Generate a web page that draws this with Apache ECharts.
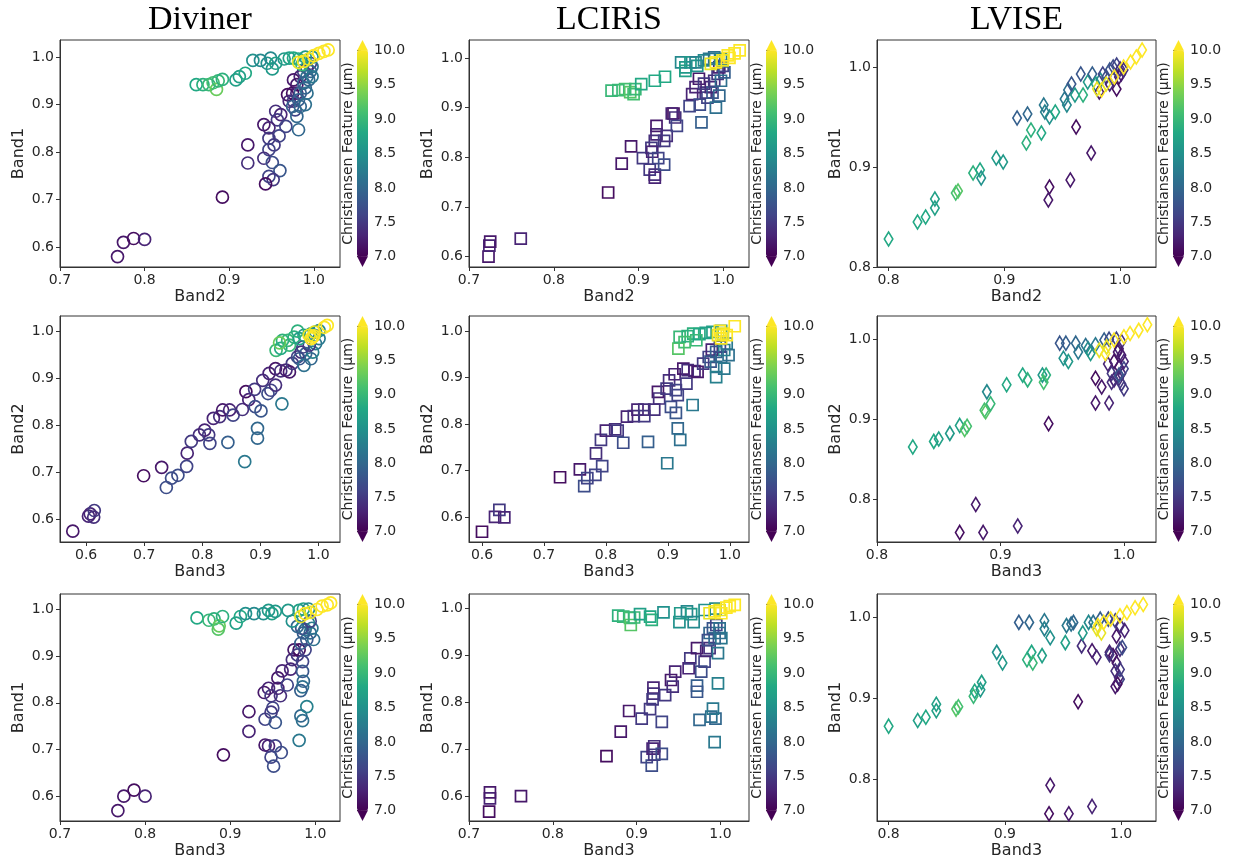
<!DOCTYPE html>
<html><head><meta charset="utf-8">
<script src="https://cdn.jsdelivr.net/npm/echarts@6/dist/echarts.min.js"></script>
<style>html,body{margin:0;padding:0;background:#fff}#chart{width:1233px;height:866px}</style>
</head><body><div id="chart"></div>
<script>
// ---------------- data ----------------
const titles = ['Diviner', 'LCIRiS', 'LVISE'];
const cbLabel = 'Christiansen Feature (µm)';
const cbTicks = [7.0, 7.5, 8.0, 8.5, 9.0, 9.5, 10.0];
const ticks_06_10 = [0.6, 0.7, 0.8, 0.9, 1.0];
const ticks_07_10 = [0.7, 0.8, 0.9, 1.0];
const ticks_08_10 = [0.8, 0.9, 1.0];
const viridis = ['#440154','#482475','#414487','#355f8d','#2a788e','#21918c','#22a884','#44bf70','#7ad151','#bddf26','#fde725'];

// Diviner, Band2 (x) vs Band1 (y)
const divR1_x = [0.996,0.992,0.988,0.984,0.980,0.976,0.975,0.980,0.969,0.971,0.976,0.978,0.955,0.961,0.957,0.967,0.941,0.947,0.959,0.947,0.953,0.947,0.922,0.922,0.941,0.951,0.960,0.947,0.952,0.943,0.892,0.768,0.775,0.787,0.800,
  0.998,0.996,0.992,0.988,0.994,0.998,0.990,0.984,0.992,0.982,0.990,0.984,0.980,0.982,0.975,
  0.861,0.869,0.876,0.881,0.885,0.887,0.892,0.908,0.912,0.919,0.928,0.937,0.945,0.949,0.951,0.955,0.965,0.971,0.976,0.982,0.986,0.990,0.998,
  0.982,0.988,0.994,1.000,1.006,1.012,1.017];
const divR1_y = [0.987,0.977,0.970,0.959,0.942,0.952,0.924,0.924,0.921,0.907,0.907,0.889,0.886,0.879,0.868,0.854,0.858,0.851,0.834,0.829,0.815,0.805,0.815,0.777,0.787,0.778,0.761,0.749,0.742,0.733,0.705,0.580,0.610,0.618,0.616,
  0.980,0.970,0.959,0.945,0.952,0.959,0.935,0.924,0.924,0.910,0.900,0.896,0.875,0.847,0.896,
  0.942,0.942,0.942,0.946,0.932,0.950,0.953,0.952,0.959,0.966,0.993,0.993,0.987,0.998,0.975,0.987,0.996,0.998,0.998,0.996,0.984,1.000,1.000,
  0.989,0.991,0.996,1.003,1.008,1.012,1.015];
const divR1_c = [7.5,7.4,7.6,7.3,7.2,7.2,7.1,7.3,7.1,7.3,7.5,7.6,7.4,7.3,7.5,7.6,7.2,7.3,7.6,7.5,7.5,7.6,7.2,7.4,7.4,7.7,7.8,7.6,7.5,7.1,7.1,7.2,7.2,7.1,7.3,
  8.1,8.0,8.1,7.9,8.0,8.2,8.0,7.9,8.1,7.9,8.1,8.0,8.0,8.0,7.9,
  8.8,8.9,9.0,9.1,9.3,9.0,8.9,8.7,8.7,8.8,8.5,8.4,8.5,8.4,8.6,8.7,8.6,8.7,8.8,8.8,9.0,8.6,8.5,
  9.9,10,9.9,10,10,10,10];

// LCIRiS, Band2 (x) vs Band1 (y)
const lciR1_x = [0.723,0.724,0.725,0.761,0.864,0.880,0.891,0.905,0.913,0.919,0.919,0.921,0.921,0.919,0.915,0.916,0.923,0.930,0.930,0.933,0.941,0.943,0.945,0.939,0.960,0.963,0.971,0.972,0.974,0.979,0.981,0.985,0.989,0.993,0.995,0.999,0.991,0.995,0.997,1.001,0.987,0.967,0.977,
  0.868,0.876,0.884,0.890,0.894,0.896,0.903,0.919,0.931,0.950,0.955,0.955,0.961,0.967,0.969,0.977,0.983,0.989,0.997,
  0.985,0.991,0.999,1.005,1.007,1.013,1.019];
const lciR1_y = [0.600,0.622,0.630,0.636,0.729,0.787,0.822,0.798,0.775,0.765,0.759,0.863,0.846,0.833,0.819,0.811,0.798,0.785,0.833,0.843,0.888,0.880,0.863,0.888,0.903,0.927,0.958,0.906,0.870,0.930,0.920,0.941,0.954,0.968,0.981,0.984,0.900,0.924,0.954,0.971,0.930,0.941,0.948,
  0.934,0.935,0.937,0.931,0.927,0.937,0.947,0.954,0.962,0.991,0.981,0.974,0.991,0.991,0.984,0.995,0.998,1.001,0.998,
  0.988,0.991,0.995,1.005,1.000,1.009,1.015];
const lciR1_c = [7.2,7.3,7.2,7.3,7.1,7.2,7.2,7.5,7.5,7.4,7.3,7.2,7.3,7.4,7.5,7.3,7.6,7.7,7.5,7.4,7.1,7.4,7.6,7.3,7.6,7.3,7.2,7.7,7.9,7.5,7.6,7.3,7.4,7.5,7.3,7.6,8.1,8.0,8.1,7.9,7.8,7.3,7.5,
  9.0,9.0,9.1,9.2,9.1,9.0,8.8,8.8,8.8,8.4,8.6,8.7,8.6,8.3,8.5,8.4,8.2,8.1,8.3,
  9.9,10,9.9,10,10,10,10];

// LVISE, Band2 (x) vs Band1 (y)
const lviR1_x = [0.800,0.825,0.832,0.840,0.840,0.858,0.860,0.873,0.879,0.880,0.893,0.899,0.911,0.920,0.919,0.923,0.932,0.934,0.939,0.935,0.944,0.952,0.954,0.955,0.958,0.961,0.966,0.968,0.972,0.976,0.979,0.983,0.982,0.985,0.991,0.994,0.997,1.000,1.001,0.999,0.997,1.003,0.994,0.988,0.991,0.962,0.975,0.957,0.939,0.938,
  0.980,0.984,0.988,0.995,1.003,1.009,1.014,1.019];
const lviR1_y = [0.828,0.845,0.850,0.859,0.868,0.874,0.876,0.894,0.897,0.889,0.909,0.905,0.949,0.953,0.924,0.937,0.934,0.962,0.950,0.955,0.955,0.968,0.962,0.977,0.983,0.972,0.993,0.972,0.985,0.993,0.983,0.987,0.975,0.993,0.997,1.000,1.002,0.998,0.993,0.990,0.978,0.997,0.988,0.990,0.983,0.940,0.914,0.887,0.880,0.867,
  0.978,0.977,0.983,0.990,1.000,1.005,1.010,1.017];
const lviR1_c = [8.8,8.8,8.8,8.7,8.7,9.1,9.2,8.9,8.8,8.5,8.6,8.6,7.9,8.0,8.9,8.9,8.8,8.2,8.5,8.3,8.8,8.2,8.4,8.1,7.8,8.6,7.8,8.9,8.6,7.9,8.7,8.4,7.2,7.6,7.8,7.7,7.6,7.4,7.3,7.2,7.1,7.4,7.5,7.7,7.3,7.1,7.2,7.2,7.1,7.2,
  9.9,10,9.9,10,10,10,10,10];

// Diviner, Band3 (x) vs Band2 (y)
const divR2_x = [0.577,0.604,0.607,0.613,0.614,0.699,0.730,0.738,0.747,0.758,0.773,0.774,0.781,0.795,0.804,0.811,0.813,0.819,0.830,0.835,0.847,0.853,0.844,0.869,0.875,0.880,0.890,0.891,0.901,0.895,0.895,0.873,0.904,0.915,0.913,0.918,0.926,0.926,0.935,0.944,0.950,0.937,0.955,0.964,0.970,0.967,0.978,0.975,0.987,0.990,0.995,0.984,1.001,0.973,0.993,
  0.927,0.935,0.938,0.947,0.950,0.958,0.967,0.975,0.987,0.995,1.001,0.964,0.933,
  0.984,0.990,0.993,0.987,0.992,1.010,1.015];
const divR2_y = [0.574,0.606,0.611,0.604,0.618,0.692,0.710,0.667,0.687,0.693,0.712,0.740,0.765,0.779,0.789,0.779,0.761,0.814,0.818,0.832,0.832,0.821,0.763,0.833,0.871,0.854,0.876,0.839,0.830,0.793,0.772,0.722,0.895,0.910,0.867,0.874,0.885,0.920,0.915,0.917,0.913,0.845,0.931,0.945,0.955,0.941,0.952,0.927,0.941,0.955,0.973,0.970,0.984,0.966,0.991,
  0.959,0.963,0.980,0.980,0.970,0.987,0.984,0.991,0.994,0.998,1.001,1.000,0.975,
  0.991,0.987,0.998,0.984,0.990,1.008,1.012];
const divR2_c = [7.2,7.3,7.3,7.4,7.5,7.1,7.2,7.7,7.7,7.7,7.6,7.3,7.5,7.4,7.3,7.5,7.6,7.3,7.4,7.2,7.3,7.6,7.9,7.4,7.1,7.3,7.5,7.7,7.8,8.0,8.0,8.2,7.4,7.3,7.7,7.6,7.4,7.2,7.4,7.3,7.2,8.2,7.5,7.6,7.4,7.8,7.9,8.1,8.0,8.3,8.2,7.5,8.2,7.6,8.3,
  9.0,8.8,8.9,9.0,9.0,8.9,8.7,8.6,8.6,8.5,8.4,8.9,9.3,
  9.9,10,9.9,10,10,10,10];

// LCIRiS, Band3 (x) vs Band2 (y)
const lciR2_x = [0.600,0.621,0.628,0.636,0.726,0.758,0.765,0.770,0.783,0.794,0.784,0.792,0.800,0.815,0.819,0.828,0.834,0.845,0.851,0.862,0.862,0.868,0.878,0.884,0.886,0.898,0.905,0.913,0.916,0.920,0.899,0.902,0.911,0.913,0.916,0.930,0.925,0.932,0.943,0.948,0.940,0.957,0.966,0.971,0.969,0.978,0.978,0.986,0.991,0.995,0.984,0.978,0.991,0.998,
  0.917,0.919,0.932,0.941,0.951,0.961,0.972,0.986,0.946,0.927,
  0.981,0.986,0.989,0.984,0.995,1.008];
const lciR2_y = [0.569,0.601,0.616,0.600,0.686,0.703,0.667,0.684,0.691,0.710,0.737,0.766,0.786,0.789,0.786,0.760,0.816,0.817,0.831,0.831,0.817,0.762,0.831,0.869,0.855,0.876,0.837,0.824,0.791,0.766,0.716,0.894,0.907,0.873,0.862,0.887,0.919,0.916,0.914,0.912,0.841,0.930,0.944,0.960,0.934,0.955,0.923,0.944,0.959,0.973,0.966,0.901,0.919,0.948,
  0.962,0.987,0.989,0.994,0.993,0.996,0.998,1.000,0.980,0.976,
  0.991,0.984,0.994,1.000,0.991,1.010];
const lciR2_c = [7.1,7.3,7.5,7.3,7.1,7.2,7.7,7.6,7.6,7.6,7.4,7.5,7.3,7.4,7.5,7.7,7.3,7.4,7.3,7.4,7.5,7.9,7.4,7.2,7.4,7.5,7.7,7.8,8.0,8.1,8.2,7.4,7.3,7.6,7.6,7.5,7.2,7.4,7.3,7.2,8.2,7.5,7.6,7.3,7.8,7.9,8.1,8.0,8.3,8.2,7.6,8.3,8.2,8.1,
  9.2,9.0,8.9,8.9,8.8,8.7,8.7,8.5,9.0,9.1,
  9.9,10,9.9,10,10,10];

// LVISE, Band3 (x) vs Band2 (y)
const lviR2_x = [0.829,0.846,0.850,0.859,0.867,0.871,0.873,0.889,0.887,0.888,0.892,0.905,0.918,0.922,0.934,0.937,0.935,0.948,0.953,0.951,0.955,0.961,0.963,0.969,0.971,0.973,0.977,0.984,0.988,0.994,0.998,0.996,0.998,0.992,0.996,0.998,0.996,0.990,0.992,0.998,0.987,0.977,0.982,0.990,0.977,0.988,0.939,0.880,0.867,0.886,0.914,1.000,1.000,0.996,1.000,0.995,
  0.980,0.985,0.986,0.992,1.000,1.005,1.012,1.019];
const lviR2_y = [0.865,0.872,0.875,0.882,0.892,0.887,0.891,0.934,0.911,0.909,0.919,0.943,0.955,0.949,0.955,0.955,0.946,0.995,0.995,0.976,0.972,0.995,0.984,0.992,0.988,0.982,0.993,0.999,1.000,1.000,0.997,0.988,0.980,0.972,0.965,0.957,0.951,0.957,0.949,0.944,0.969,0.951,0.940,0.946,0.920,0.920,0.894,0.793,0.758,0.758,0.766,0.972,0.963,0.955,0.938,0.984,
  0.986,0.982,0.990,0.999,1.003,1.007,1.011,1.018];
const lviR2_c = [8.8,8.8,8.7,8.6,8.7,9.2,9.1,8.4,9.1,9.2,9.0,8.8,8.8,8.9,8.6,8.9,9.1,7.8,7.9,8.5,8.6,8.0,8.2,8.1,8.4,8.6,8.2,7.9,7.7,7.6,7.4,7.3,7.2,7.1,7.2,7.3,7.4,7.5,7.3,7.5,7.3,7.1,7.2,7.4,7.2,7.3,7.1,7.2,7.1,7.2,7.3,7.3,7.6,7.8,7.5,7.2,
  9.9,10,9.9,10,10,10,10,10];

// Diviner, Band3 (x) vs Band1 (y)
const divR3_x = [0.768,0.775,0.787,0.800,0.892,0.922,0.922,0.941,0.945,0.948,0.951,0.953,0.960,0.941,0.950,0.948,0.953,0.940,0.945,0.948,0.956,0.959,0.956,0.961,0.967,0.971,0.973,0.975,0.981,0.979,0.985,0.985,0.986,0.985,0.983,0.983,0.985,0.990,0.981,0.983,0.988,0.990,0.994,0.988,0.996,0.992,0.998,0.986,0.984,0.994,0.979,
  0.861,0.875,0.881,0.887,0.886,0.891,0.907,0.912,0.918,0.928,0.939,0.945,0.949,0.953,0.968,0.973,0.981,0.986,0.992,
  0.983,0.988,0.994,1.002,1.008,1.014,1.018];
const divR3_y = [0.570,0.601,0.614,0.601,0.689,0.739,0.781,0.710,0.708,0.684,0.665,0.708,0.694,0.765,0.789,0.780,0.758,0.822,0.831,0.815,0.831,0.815,0.853,0.868,0.838,0.872,0.892,0.913,0.913,0.902,0.888,0.867,0.846,0.834,0.826,0.772,0.762,0.792,0.720,0.927,0.913,0.935,0.949,0.956,0.959,0.970,0.935,0.949,0.959,0.974,0.963,
  0.981,0.976,0.979,0.964,0.957,0.984,0.970,0.984,0.990,0.990,0.990,0.997,0.990,0.995,0.997,0.974,0.997,1.000,1.000,
  0.984,0.990,0.993,0.999,1.006,1.009,1.013];
const divR3_c = [7.2,7.2,7.1,7.3,7.1,7.3,7.2,7.2,7.3,7.6,7.7,7.6,7.7,7.6,7.6,7.5,7.8,7.2,7.3,7.5,7.3,7.4,7.2,7.3,7.6,7.3,7.4,7.2,7.1,7.5,7.6,7.8,8.0,8.1,7.9,8.0,8.1,8.3,8.2,7.9,7.6,7.8,8.0,8.1,8.2,8.3,8.1,7.9,7.7,7.6,8.0,
  8.8,9.0,8.9,9.3,9.2,8.9,8.7,8.8,8.5,8.4,8.5,8.6,8.7,8.6,8.6,8.5,8.7,8.7,8.4,
  9.9,10,9.9,10,10,10,10];

// LCIRiS, Band3 (x) vs Band1 (y)
const lciR3_x = [0.724,0.725,0.725,0.762,0.864,0.881,0.891,0.906,0.912,0.918,0.921,0.921,0.919,0.930,0.930,0.920,0.920,0.919,0.916,0.934,0.941,0.943,0.946,0.962,0.964,0.972,0.972,0.972,0.977,0.981,0.983,0.987,0.975,0.989,0.994,0.991,0.993,0.997,0.997,0.987,0.991,0.995,0.999,1.001,0.993,0.985,0.999,
  0.878,0.884,0.892,0.893,0.897,0.904,0.916,0.918,0.932,0.951,0.952,0.960,0.965,0.968,0.981,0.994,
  0.987,0.993,0.999,1.001,1.007,1.011,1.017];
const lciR3_y = [0.567,0.595,0.608,0.600,0.685,0.737,0.781,0.765,0.683,0.665,0.688,0.706,0.701,0.690,0.758,0.831,0.818,0.806,0.785,0.815,0.847,0.833,0.865,0.872,0.893,0.915,0.835,0.822,0.865,0.886,0.909,0.915,0.762,0.769,0.765,0.786,0.715,0.840,0.904,0.947,0.957,0.964,0.957,0.936,0.936,0.932,0.947,
  0.984,0.982,0.979,0.964,0.980,0.987,0.982,0.975,0.991,0.970,0.989,0.993,0.987,0.970,0.996,0.999,
  0.989,0.993,0.996,0.989,1.001,1.004,1.007];
const lciR3_c = [7.1,7.3,7.2,7.2,7.1,7.2,7.2,7.5,7.6,7.7,7.5,7.4,7.3,7.7,7.6,7.3,7.4,7.5,7.5,7.5,7.2,7.4,7.3,7.3,7.5,7.2,7.9,7.8,7.7,7.6,7.3,7.4,8.0,8.1,8.0,8.2,8.2,8.3,8.2,8.0,7.8,7.6,8.1,8.2,8.0,7.7,8.1,
  8.9,9.0,9.1,9.2,9.0,8.7,8.8,8.9,8.5,8.5,8.6,8.4,8.6,8.4,8.5,8.4,
  9.9,10,9.9,10,10,10,10];

// LVISE, Band3 (x) vs Band1 (y)
const lviR3_x = [0.800,0.825,0.832,0.841,0.841,0.858,0.860,0.873,0.874,0.879,0.880,0.893,0.898,0.912,0.921,0.919,0.923,0.924,0.932,0.934,0.934,0.939,0.952,0.953,0.957,0.959,0.966,0.967,0.972,0.975,0.976,0.979,0.982,0.989,0.995,0.999,1.003,0.996,0.993,0.996,0.999,0.990,0.999,0.995,0.998,0.999,0.997,0.995,0.990,1.001,0.963,0.939,0.938,0.955,0.975,
  0.979,0.980,0.983,0.985,0.991,0.999,1.005,1.012,1.019];
const lviR3_y = [0.866,0.873,0.877,0.885,0.893,0.887,0.890,0.903,0.909,0.911,0.920,0.957,0.944,0.994,0.994,0.948,0.957,0.944,0.953,0.996,0.986,0.975,0.969,0.990,0.992,0.994,0.965,0.981,0.994,0.959,0.994,0.951,0.998,0.998,0.996,0.990,0.984,0.977,0.953,0.944,0.961,0.957,0.936,0.934,0.926,0.924,0.918,0.915,0.954,0.963,0.896,0.793,0.758,0.758,0.767,
  0.986,0.990,0.981,0.994,0.998,1.002,1.006,1.012,1.016];
const lviR3_c = [8.8,8.7,8.8,8.7,8.7,9.2,9.1,9.0,8.8,8.6,8.7,8.5,8.6,7.9,8.0,8.9,8.8,9.0,8.7,8.2,8.3,8.5,8.7,8.2,8.1,8.0,7.4,8.6,8.4,7.2,8.1,7.3,7.9,7.7,7.6,7.4,7.3,7.2,7.1,7.2,7.4,7.3,7.5,7.4,7.3,7.6,7.1,7.2,7.5,7.7,7.1,7.2,7.1,7.2,7.3,
  9.9,10,9.9,10,10,10,10,10,10];

// ---------------- layout / style ----------------
const colLeft = [60, 469, 877];
const colW = [280, 280, 279];
const rowTop = [40, 316, 594];
const rowH = [227, 226, 227];
const symbols = ['circle', 'rect', 'diamond'];
const symbolSizes = [12, 11, [8.5, 14]];

const panels = [
  {x: divR1_x, y: divR1_y, c: divR1_c, xr: [0.7, 1.031], yr: [0.558, 1.036], xt: ticks_07_10, yt: ticks_06_10, xn: 'Band2', yn: 'Band1'},
  {x: lciR1_x, y: lciR1_y, c: lciR1_c, xr: [0.7, 1.03], yr: [0.579, 1.036], xt: ticks_07_10, yt: ticks_06_10, xn: 'Band2', yn: 'Band1'},
  {x: lviR1_x, y: lviR1_y, c: lviR1_c, xr: [0.79, 1.031], yr: [0.8, 1.027], xt: ticks_08_10, yt: ticks_08_10, xn: 'Band2', yn: 'Band1'},
  {x: divR2_x, y: divR2_y, c: divR2_c, xr: [0.555, 1.037], yr: [0.551, 1.032], xt: ticks_06_10, yt: ticks_06_10, xn: 'Band3', yn: 'Band2'},
  {x: lciR2_x, y: lciR2_y, c: lciR2_c, xr: [0.579, 1.031], yr: [0.547, 1.032], xt: ticks_06_10, yt: ticks_06_10, xn: 'Band3', yn: 'Band2'},
  {x: lviR2_x, y: lviR2_y, c: lviR2_c, xr: [0.8, 1.026], yr: [0.746, 1.029], xt: ticks_08_10, yt: ticks_08_10, xn: 'Band3', yn: 'Band2'},
  {x: divR3_x, y: divR3_y, c: divR3_c, xr: [0.7, 1.029], yr: [0.548, 1.032], xt: ticks_07_10, yt: ticks_06_10, xn: 'Band3', yn: 'Band1'},
  {x: lciR3_x, y: lciR3_y, c: lciR3_c, xr: [0.7, 1.034], yr: [0.547, 1.03], xt: ticks_07_10, yt: ticks_06_10, xn: 'Band3', yn: 'Band1'},
  {x: lviR3_x, y: lviR3_y, c: lviR3_c, xr: [0.79, 1.03], yr: [0.749, 1.029], xt: ticks_08_10, yt: ticks_08_10, xn: 'Band3', yn: 'Band1'}
];

const TXT = '#262626', LINE = '#333';
const FONT = '"DejaVu Sans", sans-serif';
function cfColor(v) {
  const t = Math.max(0, Math.min(1, (v - cbTicks[0]) / (cbTicks[cbTicks.length - 1] - cbTicks[0])));
  return echarts.color.lerp(t, viridis);
}
const fmt1 = v => (Math.round(v * 10) / 10).toFixed(1);

const grid = [], xAxis = [], yAxis = [], series = [], visualMap = [], graphic = [];

panels.forEach((p, i) => {
  const r = Math.floor(i / 3), col = i % 3;
  if (p.x.length !== p.y.length || p.x.length !== p.c.length) console.error('length mismatch panel', i, p.x.length, p.y.length, p.c.length);
  grid.push({left: colLeft[col], top: rowTop[r], width: colW[col], height: rowH[r], show: true, borderColor: LINE, borderWidth: 1, backgroundColor: 'transparent'});
  xAxis.push({
    gridIndex: i, type: 'value', min: p.xr[0], max: p.xr[1],
    name: p.xn, nameLocation: 'middle', nameGap: 22,
    nameTextStyle: {fontSize: 16, color: TXT, fontFamily: FONT},
    axisLine: {show: true, onZero: false, lineStyle: {color: LINE}},
    axisTick: {show: true, length: 4, customValues: p.xt, lineStyle: {color: LINE}},
    axisLabel: {customValues: p.xt, formatter: fmt1, fontSize: 14, color: TXT, margin: 6, fontFamily: FONT},
    splitLine: {show: false}
  });
  yAxis.push({
    gridIndex: i, type: 'value', min: p.yr[0], max: p.yr[1],
    name: p.yn, nameLocation: 'middle', nameGap: 33,
    nameTextStyle: {fontSize: 16, color: TXT, fontFamily: FONT},
    axisLine: {show: true, onZero: false, lineStyle: {color: LINE}},
    axisTick: {show: true, length: 4, customValues: p.yt, lineStyle: {color: LINE}},
    axisLabel: {customValues: p.yt, formatter: fmt1, fontSize: 14, color: TXT, margin: 6, fontFamily: FONT},
    splitLine: {show: false}
  });
  series.push({
    type: 'scatter', xAxisIndex: i, yAxisIndex: i,
    symbol: symbols[col], symbolSize: symbolSizes[col],
    silent: true, animation: false,
    itemStyle: {color: 'rgba(0,0,0,0)', borderWidth: 1.7, opacity: 1},
    data: p.x.map((xv, k) => ({value: [xv, p.y[k], p.c[k]], itemStyle: {color: 'rgba(0,0,0,0)', borderColor: cfColor(p.c[k])}}))
  });
});

// colorbars
panels.forEach((p, i) => {
  const r = Math.floor(i / 3), col = i % 3;
  const cbW = 11;
  const cbLeft = colLeft[col] + colW[col] + 17;
  const ext = rowH[r] * 0.05 / 1.1;
  const cbTop = rowTop[r] + ext;
  const cbH = rowH[r] - 2 * ext;
  const gi = 9 + i;
  grid.push({left: cbLeft, top: cbTop, width: cbW, height: cbH, show: false});
  xAxis.push({gridIndex: gi, type: 'value', show: false, min: 0, max: 1});
  yAxis.push({
    gridIndex: gi, type: 'value', min: cbTicks[0], max: cbTicks[cbTicks.length - 1], interval: 0.5, position: 'right',
    axisLine: {show: false},
    axisTick: {show: true, length: 4, lineStyle: {color: LINE}},
    axisLabel: {formatter: fmt1, fontSize: 14, color: TXT, margin: 6, fontFamily: FONT},
    splitLine: {show: false}
  });
  visualMap.push({
    type: 'continuous', min: cbTicks[0], max: cbTicks[cbTicks.length - 1], seriesIndex: [],
    calculable: false, hoverLink: false, orient: 'vertical', padding: 0,
    left: cbLeft, top: cbTop, itemWidth: cbW, itemHeight: cbH,
    inRange: {color: viridis}, text: null, showLabel: false
  });
  graphic.push({type: 'polygon', silent: true, z: 100,
    shape: {points: [[cbLeft, cbTop + 0.5], [cbLeft + cbW, cbTop + 0.5], [cbLeft + cbW / 2, rowTop[r]]]},
    style: {fill: viridis[viridis.length - 1]}});
  graphic.push({type: 'polygon', silent: true, z: 100,
    shape: {points: [[cbLeft, cbTop + cbH - 0.5], [cbLeft + cbW, cbTop + cbH - 0.5], [cbLeft + cbW / 2, rowTop[r] + rowH[r]]]},
    style: {fill: viridis[0]}});
  graphic.push({type: 'text', silent: true, x: cbLeft - 9, y: rowTop[r] + rowH[r] / 2, rotation: Math.PI / 2,
    style: {text: cbLabel, font: '14px "DejaVu Sans"', fill: TXT, textAlign: 'center', textVerticalAlign: 'middle'}});
});

titles.forEach((t, col) => {
  graphic.push({type: 'text', silent: true, x: colLeft[col] + colW[col] / 2, y: 20,
    style: {text: t, font: '34px "Liberation Serif"', fill: '#000', textAlign: 'center', textVerticalAlign: 'middle'}});
});

const chart = echarts.init(document.getElementById('chart'), null, {renderer: 'canvas'});
chart.setOption({
  animation: false,
  backgroundColor: '#fff',
  textStyle: {fontFamily: FONT},
  grid, xAxis, yAxis, series, visualMap, graphic
});
</script></body></html>
